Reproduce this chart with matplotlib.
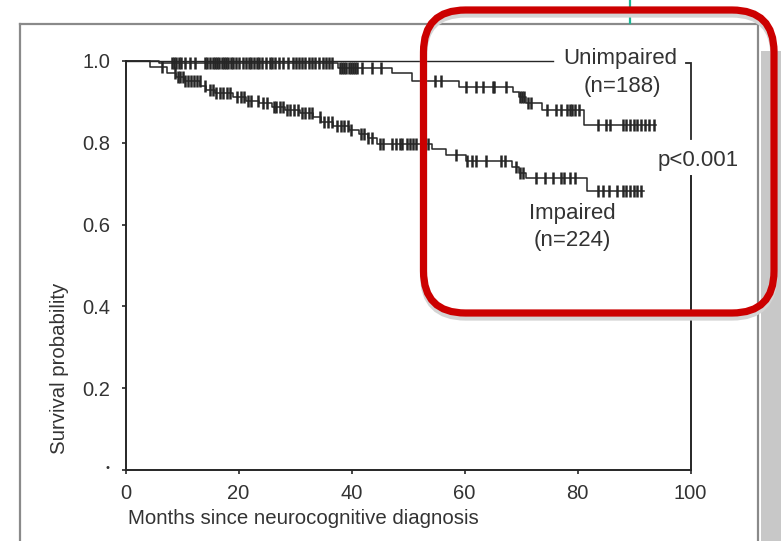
import matplotlib
matplotlib.use("Agg")
import numpy as np
import matplotlib.pyplot as plt
from matplotlib.patches import FancyBboxPatch, Rectangle
from matplotlib.lines import Line2D

# ── Kaplan-Meier steps (months, survival after the drop) ──────
unimp_t = [5.9, 37.6, 47.1, 50.7, 59.0, 68.6, 69.7, 70.9, 73.8, 81.2]
unimp_s = [0.996, 0.983, 0.970, 0.950, 0.936, 0.925, 0.913, 0.897, 0.880, 0.844]
unimp_end = 93.9
unimp_cens = [8.2, 8.6, 9.0, 9.4, 9.9, 10.5, 11.5, 12.3, 14.0, 14.4, 14.9,
              15.4, 15.8, 16.2, 16.6, 17.0, 17.4, 17.8, 18.2, 18.6, 19.1,
              19.6, 20.1, 20.8, 21.3, 21.8, 22.3, 22.7, 23.2, 23.7, 24.2,
              24.9, 25.5, 26.0, 26.5, 27.1, 27.9, 28.8, 29.7, 30.2, 30.7,
              31.3, 31.8, 32.4, 33.0, 33.6, 34.2, 34.9, 35.4, 36.0, 36.6,
              37.9, 38.3, 38.7, 39.1, 39.5, 39.9, 40.3, 40.6, 41.0, 41.9,
              43.7, 45.3, 54.7, 55.9, 60.3, 62.1, 63.2, 65.0, 65.3, 67.4,
              69.8, 70.2, 70.6, 71.2, 71.7, 74.6, 76.2, 77.1, 78.1, 78.6,
              79.1, 79.6, 80.3, 83.6, 85.1, 85.8, 88.0, 88.6, 89.3, 90.0,
              90.6, 91.3, 92.0, 92.6, 93.5]

imp_t = [4.4, 7.3, 8.9, 10.4, 13.2, 14.3, 15.8, 19.0, 21.3, 23.7, 26.0,
         28.2, 30.9, 33.1, 34.6, 36.7, 39.6, 41.4, 43.0, 44.5, 54.3, 56.8,
         60.3, 68.4, 69.6, 70.9, 81.7]
imp_s = [0.986, 0.970, 0.960, 0.950, 0.940, 0.930, 0.922, 0.912, 0.902,
         0.897, 0.887, 0.880, 0.872, 0.862, 0.852, 0.842, 0.832, 0.822,
         0.812, 0.797, 0.785, 0.770, 0.755, 0.740, 0.727, 0.714, 0.683]
imp_end = 91.8
imp_cens = [6.4, 8.7, 9.3, 9.7, 10.1, 10.6, 11.1, 11.6, 12.1, 12.6, 13.1,
            14.0, 14.9, 15.5, 16.1, 16.7, 17.3, 17.9, 18.5, 19.8, 20.4,
            21.0, 21.6, 22.3, 23.4, 24.3, 25.0, 26.2, 26.7, 27.3, 27.9,
            28.5, 29.2, 29.9, 30.6, 31.3, 31.8, 32.4, 33.0, 34.4, 35.1,
            35.8, 36.5, 37.5, 38.1, 38.7, 39.3, 39.9, 41.6, 42.3, 43.0,
            43.7, 45.0, 45.5, 47.1, 47.8, 48.5, 49.0, 49.9, 50.4, 50.9,
            51.4, 52.4, 52.9, 53.6, 58.5, 60.5, 61.3, 62.1, 63.8, 66.5,
            67.1, 69.2, 69.8, 70.4, 72.7, 74.2, 75.7, 77.1, 77.6, 78.6,
            79.6, 83.6, 84.6, 85.5, 87.0, 88.0, 88.5, 89.3, 90.0, 90.6,
            91.3]

x_ticks = [0, 20, 40, 60, 80, 100]
y_ticks = [0.0, 0.2, 0.4, 0.6, 0.8, 1.0]
y_ticklabels = ["", "0.2", "0.4", "0.6", "0.8", "1.0"]

INK = "#262626"
TXT = "#333333"
plt.rcParams["font.family"] = ["Liberation Sans", "DejaVu Sans"]

W, H = 781, 541
fig = plt.figure(figsize=(W / 100, H / 100), dpi=100)
fig.patch.set_facecolor("white")

def px(x0, y0):
    """pixel (from top-left) -> inches from bottom-left"""
    return x0 / 100, (H - y0) / 100

# ── page frame, shadow strip, connector ───────────────────────
tr = fig.dpi_scale_trans
fig.add_artist(Rectangle(px(761, H), 0.20, (H - 51) / 100, transform=tr,
                         facecolor="#c8c8c8", edgecolor="none", zorder=0))
for xs, ys in [((20, 20), (24, H)), ((20, 758), (24, 24)), ((758, 758), (24, H))]:
    fig.add_artist(Line2D([x / 100 for x in xs], [(H - y) / 100 for y in ys],
                          transform=tr, color="#8a8a8a", lw=1.6, zorder=1))
fig.add_artist(Line2D([6.30, 6.30], [(H - 0) / 100, (H - 23) / 100],
                      transform=tr, color="#1fb595", lw=1.6, zorder=1))

# ── survival axes ─────────────────────────────────────────────
ax = fig.add_axes([125.5 / W, (H - 470) / H, (690.5 - 125.5) / W, (470 - 61) / H])
ax.set_xlim(0, 100)
ax.set_ylim(0, 1.0)
for side in ("top", "right"):
    ax.spines[side].set_visible(False)
for side in ("left", "bottom"):
    ax.spines[side].set_color(INK)
    ax.spines[side].set_linewidth(1.4)

def km_curve(t, s, end):
    tt = np.r_[0.0, t, end]
    ss = np.r_[1.0, s, s[-1]]
    return tt, ss

def km_at(t, s, x):
    idx = np.searchsorted(t, x, side="right")
    return np.r_[1.0, s][idx]

for t, s, end, cens in [(unimp_t, unimp_s, unimp_end, unimp_cens),
                        (imp_t, imp_s, imp_end, imp_cens)]:
    tt, ss = km_curve(t, s, end)
    ax.step(tt, ss, where="post", color=INK, lw=1.1, clip_on=False, zorder=3)
    cx = np.asarray(cens)
    ax.plot(cx, km_at(t, s, cx), ls="none", marker="|", ms=8, mew=1.8,
            color=INK, clip_on=False, zorder=3)

# leader line for the unimpaired label
ax.plot([0, 75.7], [1.0, 1.0], color=INK, lw=1.0, clip_on=False, zorder=2)

# bracket joining the two curves, broken by the p-value
ax.plot([99.2, 100, 100], [0.995, 0.995, 0.81], color=INK, lw=1.3,
        clip_on=False, solid_joinstyle="miter")
ax.plot([100, 100], [0.72, 0.0], color=INK, lw=1.4, clip_on=False)

ax.text(87.5, 1.006, "Unimpaired", ha="center", va="center", fontsize=16, color=TXT)
ax.text(87.9, 0.938, "(n=188)", ha="center", va="center", fontsize=16, color=TXT)
ax.text(79.1, 0.627, "Impaired", ha="center", va="center", fontsize=16, color=TXT)
ax.text(79.1, 0.561, "(n=224)", ha="center", va="center", fontsize=16, color=TXT)
ax.text(101.3, 0.756, "p<0.001", ha="center", va="center", fontsize=16,
        color=TXT, clip_on=False)

ax.set_xticks(x_ticks)
ax.set_yticks(y_ticks)
ax.set_yticklabels(y_ticklabels)
ax.tick_params(axis="both", direction="out", length=3, width=1.2,
               color=INK, labelsize=14.5, labelcolor=TXT)
ax.tick_params(axis="y", pad=8)
ax.tick_params(axis="x", pad=7)
ax.text(-0.031, 0.006, "•", transform=ax.transAxes, ha="center", va="center",
        fontsize=8, color=TXT)

fig.text(128 / W, (H - 518) / H, "Months since neurocognitive diagnosis",
         ha="left", va="center", fontsize=14.7, color=TXT)
fig.text(60 / W, (H - 368) / H, "Survival probability", rotation=90,
         ha="center", va="center", fontsize=14.7, color=TXT)

# ── red highlight box with soft shadow ────────────────────────
bx0, by0, bx1, by1 = 423.5, 10, 774, 313
for dx, dy, col in [(0, 4, "#d4d4d4"), (0, 0, "#cc0000")]:
    x0, y0 = px(bx0 + dx, by1 + dy)
    fig.add_artist(FancyBboxPatch((x0, y0), (bx1 - bx0) / 100, (by1 - by0) / 100,
                                  boxstyle="round,pad=0,rounding_size=0.42",
                                  transform=tr, facecolor="none", edgecolor=col,
                                  lw=5.2, zorder=5))

fig.savefig("out.png", dpi=100)
